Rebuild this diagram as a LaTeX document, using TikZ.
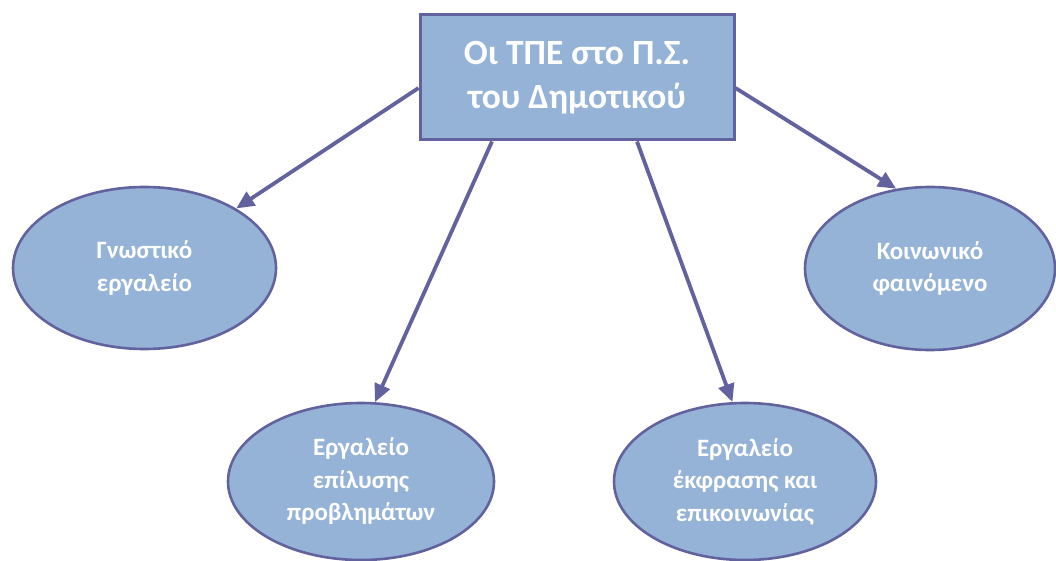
\documentclass[tikz,border=0pt]{standalone}
\usepackage{fontspec}
\setmainfont{Carlito}
\usetikzlibrary{shapes.geometric,arrows.meta,calc}
\definecolor{boxfill}{HTML}{95B3D7}
\definecolor{edge}{HTML}{62629E}
\tikzset{
  titlebox/.style={draw=edge, fill=boxfill, line width=3pt, minimum width=314pt, minimum height=125pt, inner sep=0pt, align=center, text=white, font=\bfseries\fontsize{35.5}{43.5}\selectfont},
  topic/.style={ellipse, draw=edge, fill=boxfill, line width=2.6pt, inner sep=0pt, align=center, text=white, font=\bfseries\fontsize{25}{32.5}\selectfont},
  link/.style={draw=edge, line width=3.8pt, -{Triangle[length=18pt,width=16pt]}}
}
\begin{document}
\begin{tikzpicture}[x=1pt,y=-1pt]
\useasboundingbox (0,0) rectangle (1056,561);
\node[titlebox] (title) at (577,77.5) {Οι ΤΠΕ στο Π.Σ.\\του Δημοτικού};
\node[topic, minimum width=263pt, minimum height=162pt] (e1) at (144.5,268) {Γνωστικό\\εργαλείο};
\node[topic, minimum width=250pt, minimum height=163pt] (e4) at (930,268.5) {Κοινωνικό\\φαινόμενο};
\node[topic, minimum width=266pt, minimum height=157pt] (e2) at (361,481.5) {Εργαλείο\\επίλυσης\\προβλημάτων};
\node[topic, minimum width=262pt, minimum height=157pt] (e3) at (745,481.5) {Εργαλείο\\έκφρασης και\\επικοινωνίας};
\draw[link] ($(title.west)+(0,10.5)$) -- (e1.33);
\draw[link] ($(title.east)+(0,10.5)$) -- (e4.113);
\draw[link] ($(title.south)+(-85,0)$) -- (e2.80);
\draw[link] ($(title.south)+(60,0)$) -- (e3.99);
\end{tikzpicture}
\end{document}
